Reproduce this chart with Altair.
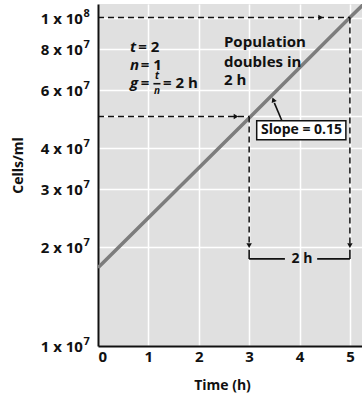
import altair as alt
import pandas as pd

# ---- data ----
time_h = [0, 3, 5, 5.3]
cells = [1.73e7, 4.95e7, 1e8, 1.11e8]

x_ticks = [0, 1, 2, 3, 4, 5]
y_ticks = [1e7, 2e7, 3e7, 4e7, 5e7, 6e7, 8e7, 1e8]

# y tick labels (mantissa and exponent), drawn as text
lab_val = [1e7, 2e7, 3e7, 4e7, 6e7, 8e7, 1e8]
lab_base = ["1 x 10", "2 x 10", "3 x 10", "4 x 10", "6 x 10", "8 x 10", "1 x 10"]
lab_exp = ["7", "7", "7", "7", "7", "7", "8"]
lab_x = -0.3

# dashed guide segments
dash_x = [0, 0, 3, 5]
dash_x2 = [5, 3, 3, 5]
dash_y = [1e8, 5e7, 5e7, 1e8]
dash_y2 = [1e8, 5e7, 2.05e7, 2.05e7]

# solid segments (bracket, slope pointer, fraction bar)
sol_x = [3, 5, 3, 4.35, 3.65, 1.10]
sol_x2 = [3, 5, 3.71, 5, 3.50, 1.24]
sol_y = [1.963e7, 1.963e7, 1.842e7, 1.842e7, 4.85e7, 6.29e7]
sol_y2 = [1.842e7, 1.842e7, 1.842e7, 1.842e7, 5.5e7, 6.29e7]

# arrowheads
arr_x = [4.42, 2.74, 3, 5, 3.48]
arr_y = [1e8, 5e7, 2.02e7, 2.02e7, 5.62e7]
arr_shape = ["triangle-right", "triangle-right", "triangle-down", "triangle-down", "triangle-up"]
arr_angle = [0, 0, 0, 0, 338]

# slope box
box_x, box_x2, box_y, box_y2 = [3.15], [4.92], [4.25e7], [4.85e7]

# upright bold text
txt = ["= 2", "= 1", "=", "= 2 h", "Population", "doubles in", "2 h", "2 h", "Slope = 0.15"]
txt_x = [0.80, 0.85, 0.85, 1.29, 2.5, 2.5, 2.5, 4.05, 4.04]
txt_y = [8.16e7, 7.19e7, 6.34e7, 6.34e7, 8.45e7, 7.34e7, 6.47e7, 1.842e7, 4.54e7]
txt_align = ["left", "left", "left", "left", "left", "left", "left", "center", "center"]

# italic symbols
ital = ["t", "n", "g"]
ital_x = [0.635, 0.635, 0.635]
ital_y = [8.16e7, 7.19e7, 6.34e7]

# fraction t / n
frac = ["t", "n"]
frac_x = [1.17, 1.17]
frac_y = [6.65e7, 5.98e7]

FONT = "Open Sans"

xscale = alt.Scale(domain=[0, 5.24], nice=False, zero=False)
yscale = alt.Scale(type="log", domain=[1e7, 1.1e8], nice=False)

xaxis = alt.Axis(values=x_ticks, title="Time (h)", labelFont=FONT, labelFontWeight="bold",
                 labelFontSize=15, labelColor="#111", tickSize=0, labelPadding=3,
                 titleFont=FONT, titleFontWeight="bold", titleFontSize=14, titleColor="#111",
                 titleX=124, titleY=39, titleBaseline="middle",
                 domainColor="#111", domainWidth=2, grid=True, gridColor="white",
                 gridWidth=1.5, gridOpacity=1)
yaxis = alt.Axis(values=y_ticks, labels=False, title="Cells/ml", tickSize=0,
                 titleFont=FONT, titleFontWeight="bold", titleFontSize=14,
                 titleColor="#111", titleX=-80, titleY=161, titleBaseline="middle",
                 domainColor="#111", domainWidth=2, grid=True, gridColor="white",
                 gridWidth=1.5, gridOpacity=1)


def X(f):
    return alt.X(f"{f}:Q", scale=xscale, axis=xaxis)


def Y(f):
    return alt.Y(f"{f}:Q", scale=yscale, axis=yaxis)


line_df = pd.DataFrame({"t": time_h, "c": cells})
lab_df = pd.DataFrame({"v": lab_val, "base": lab_base, "exp": lab_exp, "x": [lab_x] * len(lab_val)})
dash_df = pd.DataFrame({"x": dash_x, "x2": dash_x2, "y": dash_y, "y2": dash_y2})
sol_df = pd.DataFrame({"x": sol_x, "x2": sol_x2, "y": sol_y, "y2": sol_y2})
arr_df = pd.DataFrame({"x": arr_x, "y": arr_y, "shape": arr_shape, "angle": arr_angle})
box_df = pd.DataFrame({"x": box_x, "x2": box_x2, "y": box_y, "y2": box_y2})
txt_df = pd.DataFrame({"x": txt_x, "y": txt_y, "text": txt, "align": txt_align})
ital_df = pd.DataFrame({"x": ital_x, "y": ital_y, "text": ital})
frac_df = pd.DataFrame({"x": frac_x, "y": frac_y, "text": frac})

line = alt.Chart(line_df).mark_line(color="#7d7d7d", strokeWidth=3.5, clip=True).encode(
    x=X("t"), y=Y("c"))

lab_base_t = alt.Chart(lab_df).mark_text(
    font=FONT, fontWeight="bold", fontSize=15, align="right", baseline="middle",
    color="#111", dy=1
).encode(x=X("x"), y=Y("v"), text="base:N")

lab_exp_t = alt.Chart(lab_df).mark_text(
    font=FONT, fontWeight="bold", fontSize=11, align="left", baseline="middle",
    color="#111", dx=0.5, dy=-4
).encode(x=X("x"), y=Y("v"), text="exp:N")

dashes = alt.Chart(dash_df).mark_rule(color="#111", strokeWidth=1.5, strokeDash=[6, 4]).encode(
    x=X("x"), x2="x2", y=Y("y"), y2="y2")

solids = alt.Chart(sol_df).mark_rule(color="#111", strokeWidth=1.6).encode(
    x=X("x"), x2="x2", y=Y("y"), y2="y2")

arrows = alt.Chart(arr_df).mark_point(filled=True, color="#111", size=30, opacity=1).encode(
    x=X("x"), y=Y("y"), shape=alt.Shape("shape:N", scale=None),
    angle=alt.Angle("angle:Q", scale=None))

box = alt.Chart(box_df).mark_rect(fill="white", stroke="#111", strokeWidth=1.5).encode(
    x=X("x"), x2="x2", y=Y("y"), y2="y2")

txt_left = alt.Chart(txt_df).transform_filter("datum.align == 'left'").mark_text(
    font=FONT, fontWeight="bold", fontSize=15, align="left", baseline="middle", color="#111"
).encode(x=X("x"), y=Y("y"), text="text:N")

txt_center = alt.Chart(txt_df).transform_filter("datum.align == 'center'").mark_text(
    font=FONT, fontWeight="bold", fontSize=14, align="center", baseline="middle", color="#111"
).encode(x=X("x"), y=Y("y"), text="text:N")

ital_txt = alt.Chart(ital_df).mark_text(
    font=FONT, fontWeight="bold", fontStyle="italic", fontSize=15, align="left",
    baseline="middle", color="#111"
).encode(x=X("x"), y=Y("y"), text="text:N")

frac_txt = alt.Chart(frac_df).mark_text(
    font=FONT, fontWeight="bold", fontStyle="italic", fontSize=10, align="center",
    baseline="middle", color="#111"
).encode(x=X("x"), y=Y("y"), text="text:N")

chart = alt.layer(line, dashes, solids, box, arrows, lab_base_t, lab_exp_t,
                  txt_left, txt_center, ital_txt, frac_txt).properties(
    width=264, height=342,
    autosize=alt.AutoSizeParams(type="none"),
    padding={"left": 98, "top": 4, "right": 0, "bottom": 52},
).configure_view(fill="#e0e0e0", strokeWidth=0)

chart.save("out.html", embed_options={"renderer": "svg", "actions": False})
